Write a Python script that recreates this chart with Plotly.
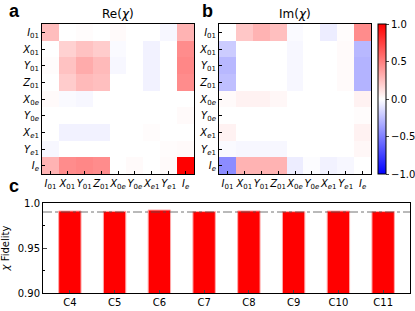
import plotly.graph_objects as go

labels = ["<i>I</i><sub>01</sub>", "<i>X</i><sub>01</sub>", "<i>Y</i><sub>01</sub>", "<i>Z</i><sub>01</sub>",
          "<i>X</i><sub>0<i>e</i></sub>", "<i>Y</i><sub>0<i>e</i></sub>", "<i>X</i><sub><i>e</i>1</sub>",
          "<i>Y</i><sub><i>e</i>1</sub>", "<i>I</i><sub><i>e</i></sub>"]

re_chi = [
    [0.26, 0.00, 0.01, 0.00, 0.02, 0.00, 0.00, -0.03, 0.30],
    [0.00, 0.18, 0.24, 0.20, -0.02, 0.00, -0.05, 0.00, 0.45],
    [0.01, 0.24, 0.33, 0.27, -0.03, 0.00, -0.05, 0.00, 0.47],
    [0.00, 0.20, 0.27, 0.25, 0.00, 0.00, -0.05, 0.00, 0.45],
    [0.02, -0.02, -0.03, 0.00, 0.00, 0.00, 0.00, 0.00, 0.00],
    [0.00, 0.00, 0.00, 0.00, 0.00, 0.00, 0.00, 0.00, 0.02],
    [0.00, -0.05, -0.05, -0.05, 0.00, 0.00, 0.01, 0.00, 0.00],
    [-0.03, 0.00, 0.00, 0.00, 0.00, 0.00, 0.00, 0.01, 0.02],
    [0.30, 0.45, 0.47, 0.45, 0.00, 0.02, 0.00, 0.02, 1.00],
]

im_chi = [
    [0.00, 0.22, 0.30, 0.25, -0.02, 0.00, -0.07, 0.01, 0.45],
    [-0.20, 0.00, 0.00, 0.00, -0.03, 0.00, 0.00, 0.02, -0.28],
    [-0.28, 0.00, 0.00, 0.00, -0.03, 0.00, 0.00, 0.02, -0.30],
    [-0.25, 0.00, 0.00, 0.00, -0.03, 0.00, 0.00, 0.02, -0.30],
    [0.02, 0.05, 0.05, 0.03, 0.00, 0.00, 0.00, 0.00, 0.05],
    [0.00, 0.00, 0.00, 0.00, 0.00, 0.00, 0.00, 0.00, 0.01],
    [0.05, 0.00, 0.00, 0.00, 0.00, 0.00, 0.00, 0.00, 0.05],
    [-0.02, -0.03, -0.03, -0.03, 0.00, 0.00, 0.00, 0.00, 0.03],
    [-0.45, 0.30, 0.30, 0.30, -0.07, -0.01, -0.05, -0.03, 0.00],
]

circuits = ["C4", "C5", "C6", "C7", "C8", "C9", "C10", "C11"]
fidelity = [0.9911, 0.9907, 0.9922, 0.9905, 0.9912, 0.9904, 0.9911, 0.9905]
threshold = 0.99

cb_ticks = [1.0, 0.5, 0.0, -0.5, -1.0]
cb_text = ["1.0", "0.5", "0.0", "−0.5", "−1.0"]
fid_ticks = [0.90, 0.95, 1.0]
fid_text = ["0.90", "0.95", "1.0"]

W, H = 415, 311
def px(x0, x1):
    return [x0 / W, x1 / W]
def py(y0, y1):
    return [1 - y1 / H, 1 - y0 / H]

bwr = [[0, "rgb(0,0,255)"], [0.5, "rgb(255,255,255)"], [1, "rgb(255,0,0)"]]
idx = list(range(len(labels)))
font = "DejaVu Sans"

fig = go.Figure()
fig.add_trace(go.Heatmap(z=re_chi, x=idx, y=idx, colorscale=bwr, zmin=-1, zmax=1,
                         showscale=False, xaxis="x", yaxis="y"))
fig.add_trace(go.Heatmap(z=im_chi, x=idx, y=idx, colorscale=bwr, zmin=-1, zmax=1,
                         xaxis="x2", yaxis="y2",
                         colorbar=dict(x=378 / W, xanchor="left", xref="paper",
                                       y=py(24, 174)[0], yanchor="bottom", len=150 / H,
                                       lenmode="fraction", thickness=8, xpad=0, ypad=0,
                                       outlinewidth=1, outlinecolor="black",
                                       tickvals=cb_ticks, ticktext=cb_text, ticks="outside",
                                       ticklen=3, tickfont=dict(size=10, family=font, color="black"))))
fig.add_trace(go.Bar(x=circuits, y=fidelity, xaxis="x3", yaxis="y3", width=0.5,
                     marker=dict(color="rgb(255,0,0)", line=dict(color="rgb(255,170,170)", width=1))))

hm_axis = dict(tickvals=idx, ticktext=labels, showline=True, linecolor="black", linewidth=1,
               mirror=True, ticks="inside", ticklen=3, tickcolor="black", tickangle=0,
               automargin=False,
               tickfont=dict(size=10, family=font, color="black"), showgrid=False, zeroline=False)

fig.update_layout(
    width=W, height=H, margin=dict(l=0, r=0, t=0, b=0, autoexpand=False),
    paper_bgcolor="white", plot_bgcolor="white", showlegend=False,
    font=dict(family=font, color="black"),
    xaxis=dict(domain=px(42, 194), range=[-0.5, 8.5], anchor="y", **hm_axis),
    yaxis=dict(domain=py(24, 174), range=[8.5, -0.5], anchor="x", **hm_axis),
    xaxis2=dict(domain=px(219, 371), range=[-0.5, 8.5], anchor="y2", **hm_axis),
    yaxis2=dict(domain=py(24, 174), range=[8.5, -0.5], anchor="x2", **hm_axis),
    xaxis3=dict(domain=px(43, 410), anchor="y3", showline=True, linecolor="black", mirror=True,
                ticks="inside", ticklen=3, tickfont=dict(size=10, family=font, color="black"),
                showgrid=False, range=[-0.6, 7.6], tickangle=0, automargin=False),
    yaxis3=dict(domain=py(203, 293), anchor="x3", range=[0.90, 1.0], showline=True,
                linecolor="black", mirror=True, ticks="inside", ticklen=4, automargin=False,
                tickvals=fid_ticks, ticktext=fid_text, showgrid=False, zeroline=False,
                tickfont=dict(size=10, family=font, color="black"),
                minor=dict(tickvals=[0.925, 0.975], ticks="inside", ticklen=2, tickcolor="black"),
                title=dict(text="<i>χ</i> Fidelity", font=dict(size=10, family=font), standoff=6)),
)

fig.add_shape(type="line", xref="x3 domain", yref="y3", x0=0, x1=1, y0=threshold, y1=threshold,
              line=dict(color="rgb(80,80,80)", width=0.8, dash="dashdot"))

fig.add_annotation(text="Re(<i>χ</i>)", xref="paper", yref="paper", x=118 / W, y=1 - 14 / H,
                   xanchor="center", yanchor="middle",
                   showarrow=False, font=dict(size=12, family=font))
fig.add_annotation(text="Im(<i>χ</i>)", xref="paper", yref="paper", x=295 / W, y=1 - 14 / H,
                   xanchor="center", yanchor="middle",
                   showarrow=False, font=dict(size=12, family=font))
for t, x, y in [("a", 14, 11), ("b", 207, 11), ("c", 14, 186)]:
    fig.add_annotation(text="<b>" + t + "</b>", xref="paper", yref="paper", x=x / W, y=1 - y / H,
                       xanchor="center", yanchor="middle",
                       showarrow=False, font=dict(size=18, family="Liberation Sans"))

fig.write_html("out.html", config={"displayModeBar": False},
               post_script="document.body.style.margin='0';document.body.style.overflow='hidden';")
